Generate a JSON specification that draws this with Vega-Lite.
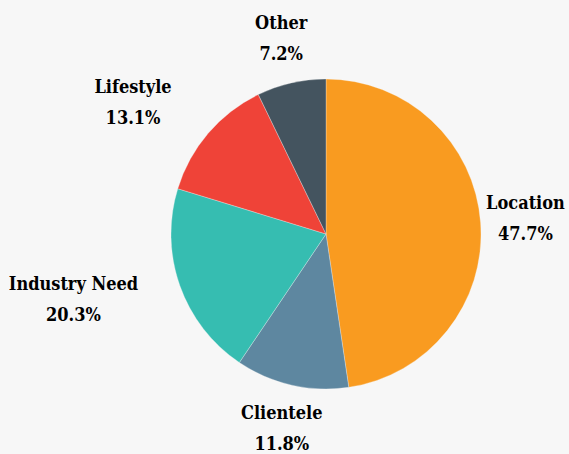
{
  "$schema": "https://vega.github.io/schema/vega-lite/v6.json",
  "width": 400,
  "height": 400,
  "autosize": {"type": "none"},
  "padding": {"left": 126, "top": 34, "right": 43, "bottom": 20},
  "background": "#f7f7f7",
  "config": {"view": {"stroke": null}, "text": {"font": "DejaVu Serif Condensed", "fontWeight": "bold", "fontSize": 18, "lineBreak": "\n", "lineHeight": 31, "baseline": "middle", "align": "center", "color": "#000"}},
  "data": {
    "values": [
      {"category": "Location", "value": 47.7, "order": 1},
      {"category": "Clientele", "value": 11.8, "order": 2},
      {"category": "Industry Need", "value": 20.3, "order": 3},
      {"category": "Lifestyle", "value": 13.1, "order": 4},
      {"category": "Other", "value": 7.2, "order": 5}
    ]
  },
  "transform": [
    {"stack": "value", "groupby": [], "sort": [{"field": "order", "order": "ascending"}], "as": ["v0", "v1"]},
    {"calculate": "(datum.v0 + datum.v1) / 2", "as": "mid"},
    {"calculate": "datum.category + '\\n' + format(datum.value, '.1f') + '%'", "as": "label"}
  ],
  "layer": [
    {
      "mark": {"type": "arc", "outerRadius": 155, "stroke": "#f7f7f7", "strokeWidth": 0.3},
      "encoding": {
        "theta": {"field": "v0", "type": "quantitative", "scale": {"domain": [0, 100.1]}},
        "theta2": {"field": "v1"},
        "color": {
          "field": "category",
          "type": "nominal",
          "legend": null,
          "scale": {
            "domain": ["Location", "Clientele", "Industry Need", "Lifestyle", "Other"],
            "range": ["#F99B20", "#5E87A0", "#36BDB1", "#EF4338", "#44545F"]
          }
        }
      }
    },
    {
      "transform": [{"filter": "datum.category == 'Location' || datum.category == 'Clientele' || datum.category == 'Other'"}],
      "mark": {"type": "text", "radius": 200, "dy": -15.5},
      "encoding": {
        "theta": {"field": "mid", "type": "quantitative", "scale": {"domain": [0, 100.1]}},
        "text": {"field": "label"}
      }
    },
    {
      "transform": [{"filter": "datum.category == 'Lifestyle'"}],
      "mark": {"type": "text", "radius": 200, "dy": -15.5, "dx": -41},
      "encoding": {
        "theta": {"field": "mid", "type": "quantitative", "scale": {"domain": [0, 100.1]}},
        "text": {"field": "label"}
      }
    },
    {
      "transform": [{"filter": "datum.category == 'Industry Need'"}],
      "mark": {"type": "text", "radius": 200, "dy": -15.5, "dx": -64},
      "encoding": {
        "theta": {"field": "mid", "type": "quantitative", "scale": {"domain": [0, 100.1]}},
        "text": {"field": "label"}
      }
    }
  ]
}
